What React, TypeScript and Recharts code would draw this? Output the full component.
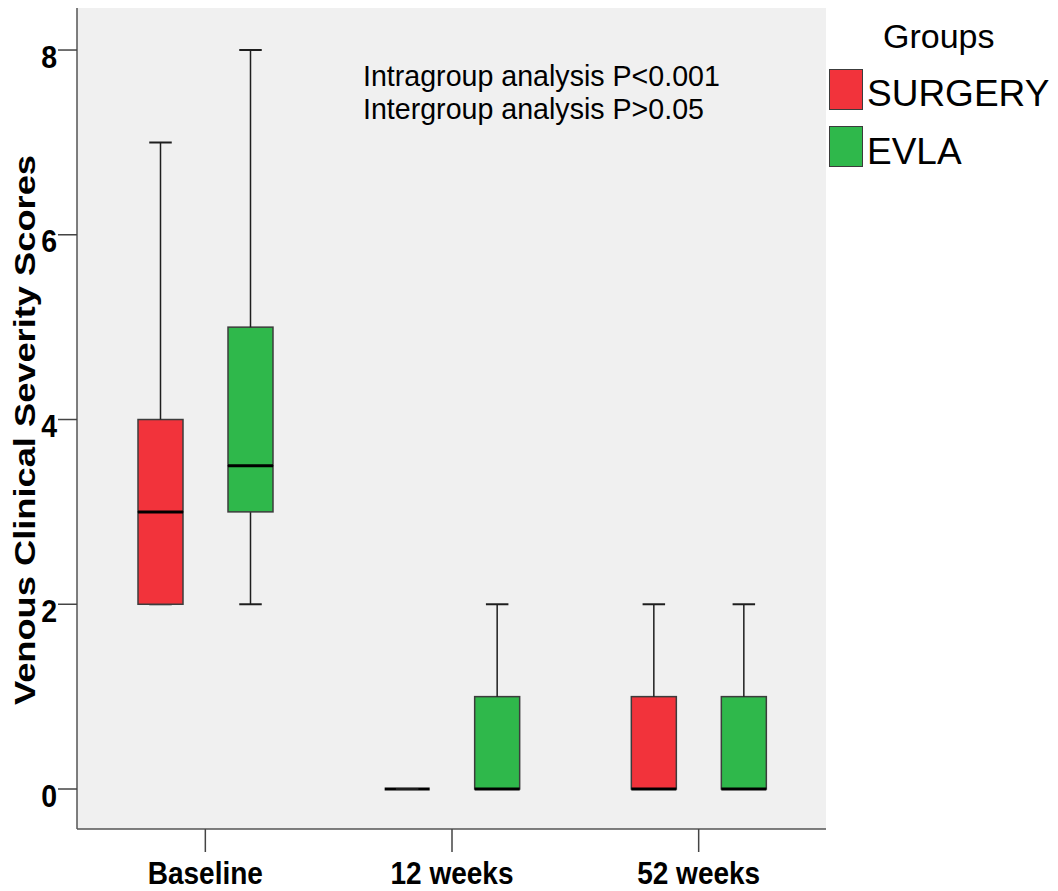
import React from 'react'
import { ComposedChart, Bar, XAxis, YAxis, CartesianGrid, Legend } from 'recharts'

const categories = ['Baseline', '12 weeks', '52 weeks']

// five-number summaries
const surgeryMin = [2, 0, 0]
const surgeryQ1 = [2, 0, 0]
const surgeryMedian = [3, 0, 0]
const surgeryQ3 = [4, 0, 1]
const surgeryMax = [7, 0, 2]

const evlaMin = [2, 0, 0]
const evlaQ1 = [3, 0, 0]
const evlaMedian = [3.5, 0, 0]
const evlaQ3 = [5, 1, 1]
const evlaMax = [8, 2, 2]

const yTicks = [0, 2, 4, 6, 8]
const groups = ['SURGERY', 'EVLA']
const groupColors = ['#f2333b', '#2fb84b']

const data = categories.map((category, i) => ({
  category,
  sBase: surgeryMin[i],
  sLowW: surgeryQ1[i] - surgeryMin[i],
  sLowBox: surgeryMedian[i] - surgeryQ1[i],
  sHighBox: surgeryQ3[i] - surgeryMedian[i],
  sHighW: surgeryMax[i] - surgeryQ3[i],
  eBase: evlaMin[i],
  eLowW: evlaQ1[i] - evlaMin[i],
  eLowBox: evlaMedian[i] - evlaQ1[i],
  eHighBox: evlaQ3[i] - evlaMedian[i],
  eHighW: evlaMax[i] - evlaQ3[i],
}))

const FONT = '"Liberation Sans", Arial, sans-serif'
const WHISKER = '#1e1e1e'
const EDGE = '#3c3c3c'

const Empty = () => <g />

const LowWhisker = (p: any) => {
  const { x, y, width, height } = p
  const cx = x + width / 2
  const yb = y + height
  return (
    <g>
      <line x1={cx} x2={cx} y1={y} y2={yb} stroke={WHISKER} strokeWidth={1.5} />
      <line x1={cx - width / 4} x2={cx + width / 4} y1={yb} y2={yb} stroke={WHISKER} strokeWidth={2} />
    </g>
  )
}

const HighWhisker = (p: any) => {
  const { x, y, width, height } = p
  const cx = x + width / 2
  return (
    <g>
      <line x1={cx} x2={cx} y1={y} y2={y + height} stroke={WHISKER} strokeWidth={1.5} />
      <line x1={cx - width / 4} x2={cx + width / 4} y1={y} y2={y} stroke={WHISKER} strokeWidth={2} />
    </g>
  )
}

const LowBox = (p: any) => {
  const { x, y, width, height, fill } = p
  if (!height) return <g />
  return <rect x={x} y={y} width={width} height={height} fill={fill} stroke={EDGE} strokeWidth={1.5} />
}

// upper half of the box; its bottom edge is the median
const HighBox = (p: any) => {
  const { x, y, width, height, fill } = p
  const ym = y + height
  return (
    <g>
      {height ? <rect x={x} y={y} width={width} height={height} fill={fill} stroke={EDGE} strokeWidth={1.5} /> : null}
      <line x1={x} x2={x + width} y1={ym} y2={ym} stroke="#000" strokeWidth={3} />
    </g>
  )
}

// the source uses a condensed bold face, so squeeze the glyphs a little
const XTick = (p: any) => (
  <text
    transform={`translate(${p.x},${p.y}) scale(0.89,1)`}
    dy="0.71em"
    textAnchor="middle"
    fontFamily={FONT}
    fontWeight="bold"
    fontSize={31.5}
    fill="#000"
  >
    {p.payload.value}
  </text>
)

const YTick = (p: any) => (
  <text
    transform={`translate(${p.x},${p.y + 6}) scale(0.89,1)`}
    dy="0.36em"
    textAnchor="end"
    fontFamily={FONT}
    fontWeight="bold"
    fontSize={32}
    fill="#000"
  >
    {p.payload.value}
  </text>
)

const LegendBox = () => (
  <div style={{ position: 'relative', width: 232, height: 180, fontFamily: FONT, color: '#000' }}>
    <div style={{ position: 'absolute', left: 57, top: 16, fontSize: 34, lineHeight: '40px' }}>Groups</div>
    {groups.map((g, i) => (
      <div key={g}>
        <div
          style={{
            position: 'absolute',
            left: 3,
            top: 69 + i * 57,
            width: 34,
            height: 41,
            background: groupColors[i],
            border: '1.5px solid #3c3c3c',
            boxSizing: 'border-box',
          }}
        />
        <div style={{ position: 'absolute', left: 41, top: 73 + i * 58, fontSize: 37, lineHeight: '42px' }}>{g}</div>
      </div>
    ))}
  </div>
)

export default function App() {
  return (
    <div style={{ position: 'absolute', left: 0, top: 0, width: 1058, height: 891, background: '#fff' }}>
      <ComposedChart
        width={1058}
        height={891}
        data={data}
        margin={{ top: 8, right: 232, bottom: 0, left: 0 }}
        barSize={45}
        barGap={45}
      >
        <CartesianGrid fill="#f0f0f0" horizontal={false} vertical={false} />
        <XAxis
          dataKey="category"
          height={62}
          padding={{ left: 5, right: 4 }}
          tick={<XTick />}
          tickSize={23}
          tickMargin={10}
          tickLine={{ stroke: '#444', strokeWidth: 1.5 }}
          axisLine={{ stroke: '#555', strokeWidth: 1.5 }}
        />
        <XAxis
          xAxisId="top"
          dataKey="category"
          orientation="top"
          height={0}
          tick={false}
          tickLine={false}
          axisLine={{ stroke: '#555', strokeWidth: 1.5 }}
        />
        <YAxis
          type="number"
          domain={[-0.433, 8.455]}
          ticks={yTicks}
          width={77}
          allowDataOverflow
          tick={<YTick />}
          tickSize={19}
          tickMargin={1}
          tickLine={{ stroke: '#444', strokeWidth: 1.5 }}
          axisLine={{ stroke: '#555', strokeWidth: 1.5 }}
          label={{
            content: () => (
              <text
                x={35}
                y={430}
                transform="rotate(-90 35 430)"
                textAnchor="middle"
                fontFamily={FONT}
                fontWeight="bold"
                fontSize={29}
                textLength={550}
                lengthAdjust="spacingAndGlyphs"
                fill="#000"
              >
                Venous Clinical Severity Scores
              </text>
            ),
          }}
        />
        <YAxis
          yAxisId="right"
          orientation="right"
          type="number"
          domain={[-0.433, 8.455]}
          width={0}
          tick={false}
          tickLine={false}
          axisLine={{ stroke: '#555', strokeWidth: 1.5 }}
        />
        <Legend
          layout="vertical"
          align="center"
          verticalAlign="middle"
          content={() => <LegendBox />}
          wrapperStyle={{ left: 826, top: 0, width: 232 }}
        />

        <Bar dataKey="sBase" stackId="surgery" fill="none" shape={<Empty />} isAnimationActive={false} legendType="none" />
        <Bar dataKey="sLowW" stackId="surgery" shape={<LowWhisker />} isAnimationActive={false} legendType="none" />
        <Bar dataKey="sLowBox" stackId="surgery" fill={groupColors[0]} shape={<LowBox />} isAnimationActive={false} />
        <Bar dataKey="sHighBox" stackId="surgery" fill={groupColors[0]} shape={<HighBox />} isAnimationActive={false} />
        <Bar dataKey="sHighW" stackId="surgery" shape={<HighWhisker />} isAnimationActive={false} legendType="none" />

        <Bar dataKey="eBase" stackId="evla" fill="none" shape={<Empty />} isAnimationActive={false} legendType="none" />
        <Bar dataKey="eLowW" stackId="evla" shape={<LowWhisker />} isAnimationActive={false} legendType="none" />
        <Bar dataKey="eLowBox" stackId="evla" fill={groupColors[1]} shape={<LowBox />} isAnimationActive={false} />
        <Bar dataKey="eHighBox" stackId="evla" fill={groupColors[1]} shape={<HighBox />} isAnimationActive={false} />
        <Bar dataKey="eHighW" stackId="evla" shape={<HighWhisker />} isAnimationActive={false} legendType="none" />

        <text x={363} y={86} fontFamily={FONT} fontSize={28.6} fill="#000">
          Intragroup analysis P&lt;0.001
        </text>
        <text x={363} y={119} fontFamily={FONT} fontSize={28.6} fill="#000">
          Intergroup analysis P&gt;0.05
        </text>
      </ComposedChart>
    </div>
  )
}
